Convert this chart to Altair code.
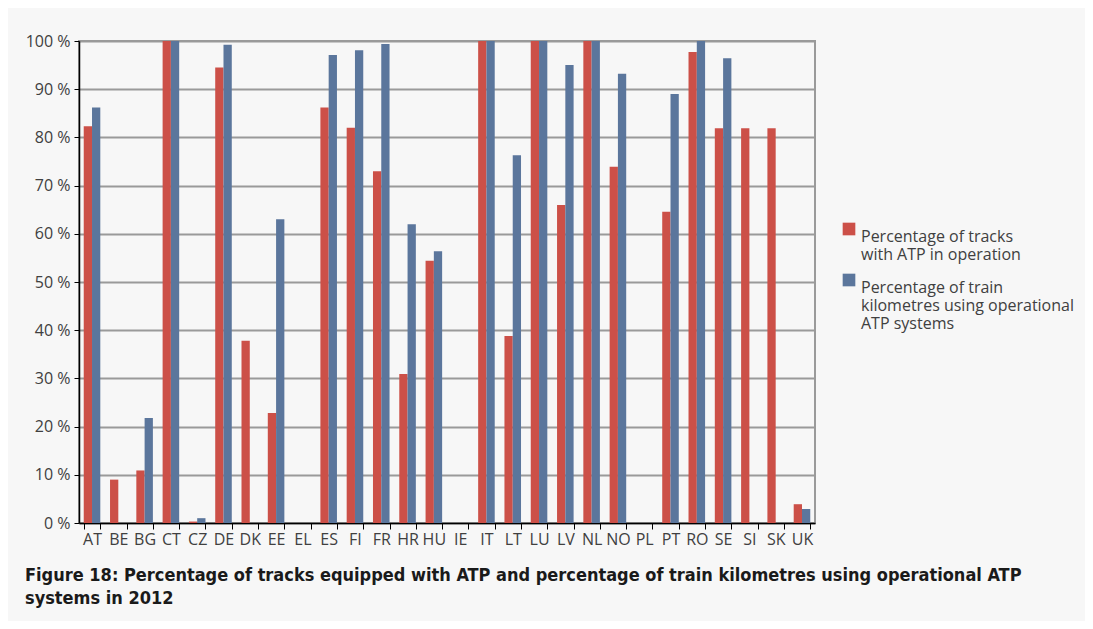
import altair as alt
import pandas as pd

countries = ["AT", "BE", "BG", "CT", "CZ", "DE", "DK", "EE", "EL", "ES", "FI", "FR", "HR", "HU",
             "IE", "IT", "LT", "LU", "LV", "NL", "NO", "PL", "PT", "RO", "SE", "SI", "SK", "UK"]
tracks = [82.3, 9.0, 10.9, 100, 0.3, 94.5, 37.8, 22.8, 0, 86.2, 82.0, 73.0, 30.9, 54.4,
          0, 100, 38.8, 100, 66.0, 100, 73.9, 0, 64.6, 97.7, 81.9, 81.9, 81.9, 3.9]
trainkm = [86.2, 0, 21.8, 100, 1.0, 99.2, 0, 63.0, 0, 97.1, 98.1, 99.4, 62.0, 56.4,
           0, 100, 76.3, 100, 95.0, 100, 93.2, 0, 89.0, 100, 96.4, 0, 0, 2.9]
series = ["Percentage of tracks|with ATP in operation",
          "Percentage of train|kilometres using operational|ATP systems"]
colors = ["#cc5048", "#5b769c"]
title_lines = ["Figure 18: Percentage of tracks equipped with ATP and percentage of train kilometres using operational ATP",
               "systems in 2012"]

rows = []
for c, a, b in zip(countries, tracks, trainkm):
    rows.append({"country": c, "series": series[0], "value": a})
    rows.append({"country": c, "series": series[1], "value": b})
df = pd.DataFrame(rows)

font = "Open Sans"

chart = alt.Chart(df).mark_bar(stroke=None).encode(
    x=alt.X("country:N", sort=countries, title=None,
            scale=alt.Scale(paddingInner=0.37, paddingOuter=0.18),
            axis=alt.Axis(labelAngle=0, labelFont=font, labelFontSize=16, labelColor="#404040",
                          labelPadding=2, tickBand="extent", tickSize=6, tickColor="#000000",
                          domainColor="#000000", domainWidth=1.5, grid=False)),
    xOffset=alt.XOffset("series:N", sort=series),
    y=alt.Y("value:Q", title=None,
            scale=alt.Scale(domain=[0, 100], nice=False),
            axis=alt.Axis(values=list(range(0, 101, 10)), labelExpr="datum.value + ' %'",
                          labelFont=font, labelFontSize=16, labelColor="#404040",
                          tickSize=5, tickColor="#000000", domainColor="#000000", domainWidth=1.5,
                          gridColor="#9a9a9a", gridWidth=1.8, labelPadding=4)),
    color=alt.Color("series:N", sort=series,
                    scale=alt.Scale(domain=series, range=colors),
                    legend=alt.Legend(title=None, orient="none", legendX=762, legendY=180,
                                      labelExpr="split(datum.label, '|')",
                                      labelFont=font, labelFontSize=16, labelColor="#404040",
                                      labelLimit=300, symbolType="square",
                                      symbolSize=160, symbolStrokeWidth=0, rowPadding=9,
                                      labelBaseline="top", labelOffset=4)),
).properties(
    width=736, height=482,
    background="#f7f7f7",
    autosize=alt.AutoSizeParams(type="none"),
    padding={"left": 71, "top": 33, "right": 270, "bottom": 98},
    title=alt.TitleParams(text=title_lines, orient="bottom", anchor="start", frame="group",
                          dx=-54, offset=20,
                          font="DejaVu Sans Condensed", fontSize=18, fontWeight="bold",
                          color="#1a1a1a", lineHeight=23),
).configure_view(stroke="#9a9a9a", strokeWidth=2)

chart.save("out.html", embed_options={"renderer": "svg", "actions": False})
